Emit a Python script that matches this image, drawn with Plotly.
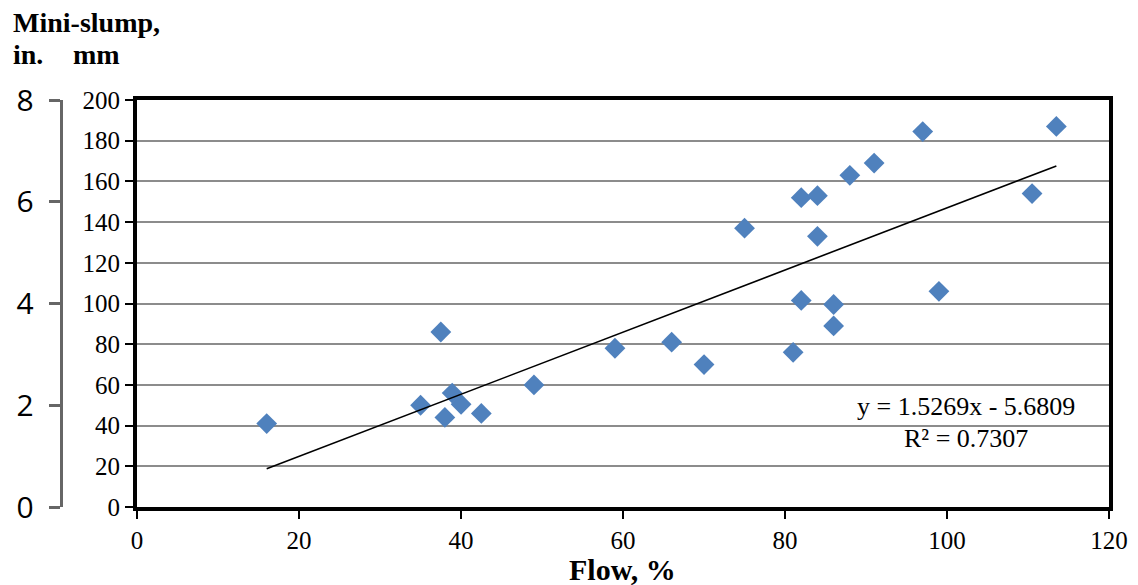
import numpy as np
import plotly.graph_objects as go

# Data
flow_pct = [16.0, 35.0, 37.5, 38.0, 38.9, 40.0, 42.5, 49.0, 59.0, 66.0, 70.0, 75.0,
            81.0, 82.0, 82.0, 84.0, 84.0, 86.0, 86.0, 88.0, 91.0, 97.0, 99.0, 110.5, 113.5]
slump_mm = [41, 50, 86, 44, 56, 50.5, 46, 60, 78, 81, 70, 137,
            76, 152, 101.5, 153, 133, 99.5, 89, 163, 169, 184.5, 106, 154, 187]

trend_slope = 1.5269
trend_intercept = -5.6809
r_squared = 0.7307

x_ticks = [0, 20, 40, 60, 80, 100, 120]
mm_ticks = [0, 20, 40, 60, 80, 100, 120, 140, 160, 180, 200]
in_ticks = [0, 2, 4, 6, 8]

SERIF = "Liberation Serif, Times New Roman, serif"
W, H = 1138, 585
ML, MR, MT, MB = 10, 27, 100, 78
plot_w = W - ML - MR
plot_h = H - MT - MB


def px_x(px):
    return (px - ML) / plot_w


def px_y(py):
    return (H - MB - py) / plot_h


fig = go.Figure()

fig.add_trace(go.Scatter(
    x=flow_pct, y=slump_mm, mode="markers",
    marker=dict(symbol="diamond", size=16, color="#4F81BD", line=dict(width=0)),
    showlegend=False, hoverinfo="x+y",
))

tx = np.array([min(flow_pct), max(flow_pct)])
fig.add_trace(go.Scatter(
    x=tx, y=trend_slope * tx + trend_intercept, mode="lines",
    line=dict(color="black", width=1.6), showlegend=False, hoverinfo="skip",
))

# invisible trace to register the inch axis
fig.add_trace(go.Scatter(
    x=[None], y=[None], yaxis="y2", mode="markers", showlegend=False, hoverinfo="skip",
))

fig.update_layout(
    width=W, height=H,
    margin=dict(l=ML, r=MR, t=MT, b=MB),
    paper_bgcolor="white", plot_bgcolor="white",
    font=dict(family=SERIF, color="black", size=25),
    xaxis=dict(
        domain=[px_x(132), 1], range=[0, 120], tickvals=x_ticks,
        showgrid=False, zeroline=False,
        showline=True, linewidth=4, linecolor="black", mirror=True,
        ticks="outside", ticklen=8, tickwidth=1.5, tickcolor="black",
        tickfont=dict(family=SERIF, size=25),
    ),
    yaxis=dict(
        range=[0, 200], tickvals=mm_ticks,
        showgrid=True, gridcolor="#8c8c8c", gridwidth=1.6, zeroline=False,
        showline=True, linewidth=4, linecolor="black", mirror=True,
        ticks="outside", ticklen=8, tickwidth=1.5, tickcolor="black",
        tickfont=dict(family=SERIF, size=25),
    ),
    yaxis2=dict(
        range=[0, 8], tickvals=in_ticks, overlaying="y", anchor="free",
        position=px_x(55), side="left",
        showgrid=False, zeroline=False,
        showline=True, linewidth=3, linecolor="#666666",
        ticks="outside", ticklen=11, tickwidth=3, tickcolor="#666666",
        ticklabelstandoff=9,
        tickfont=dict(family="Open Sans, DejaVu Sans, sans-serif", size=30, color="black"),
    ),
    annotations=[
        dict(text="Mini-slump,", x=px_x(5), y=px_y(22), xref="paper", yref="paper",
             xanchor="left", yanchor="middle", showarrow=False,
             font=dict(family=SERIF, size=28, weight="bold")),
        dict(text="in.", x=px_x(5), y=px_y(55), xref="paper", yref="paper",
             xanchor="left", yanchor="middle", showarrow=False,
             font=dict(family=SERIF, size=28, weight="bold")),
        dict(text="mm", x=px_x(65), y=px_y(55), xref="paper", yref="paper",
             xanchor="left", yanchor="middle", showarrow=False,
             font=dict(family=SERIF, size=28, weight="bold")),
        dict(text="Flow, %", x=px_x(621), y=px_y(569), xref="paper", yref="paper",
             xanchor="center", yanchor="middle", showarrow=False,
             font=dict(family=SERIF, size=30, weight="bold")),
        dict(text=f"y = {trend_slope}x - {abs(trend_intercept)}", x=px_x(967), y=px_y(406),
             xref="paper", yref="paper", xanchor="center", yanchor="middle", showarrow=False,
             font=dict(family=SERIF, size=26)),
        dict(text=f"R² = {r_squared}", x=px_x(967), y=px_y(438),
             xref="paper", yref="paper", xanchor="center", yanchor="middle", showarrow=False,
             font=dict(family=SERIF, size=26)),
    ],
)

fig.write_html("out.html", config={"displayModeBar": False},
               post_script="document.body.style.margin='0px';")
